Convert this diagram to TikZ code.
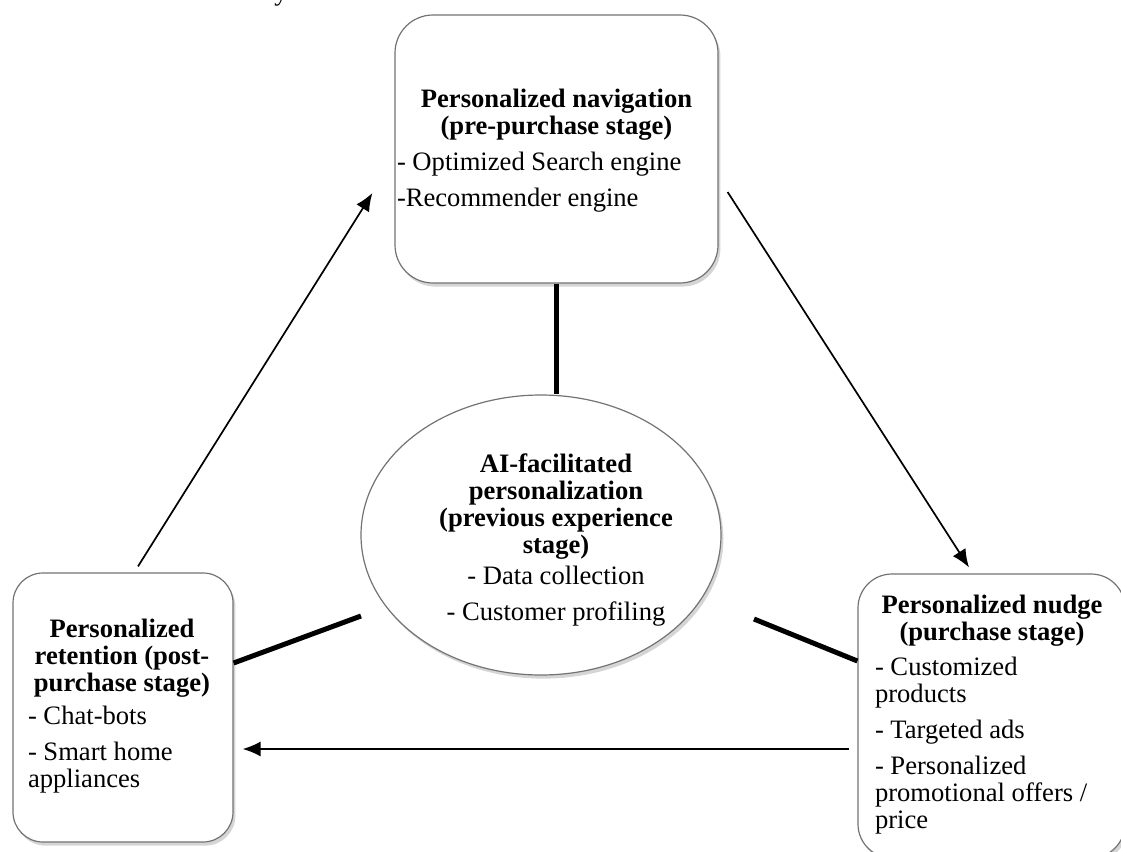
\documentclass[tikz,border=0pt]{standalone}
\usepackage{fontspec}
\setmainfont{Liberation Serif}
\usetikzlibrary{shapes.geometric,shadows,arrows.meta}

% text block whose baseline is the baseline of its first line
\newcommand\stackedtext[2]{\vtop{\hsize=#1\relax\parindent=0pt\parskip=0pt #2}}

\tikzset{
  stagebox/.style={draw=black!55, line width=0.6pt, fill=white, inner sep=0pt,
    drop shadow={shadow xshift=1.2pt, shadow yshift=-1.8pt, opacity=.3, fill=black!55}},
  corebox/.style={ellipse, draw=black!55, line width=0.6pt, fill=white, inner sep=0pt,
    drop shadow={shadow xshift=1.2pt, shadow yshift=-1.8pt, opacity=.3, fill=black!55}},
  txt/.style={anchor=base, inner sep=0pt, font=\fontsize{13.3}{13.5}\selectfont},
  flow/.style={line width=0.85pt, -{Latex[length=9pt, width=7.5pt]}},
  tie/.style={line width=2.5pt},
}

\begin{document}
\begin{tikzpicture}[x=0.5pt, y=-0.5pt]
\useasboundingbox (0,0) rectangle (1121,852);
\clip (0,0) rectangle (1121,852);

% tail of a line of text above the figure
\node[txt] (tail) at (281,0) {y};

% the three stages and the central node
\node[stagebox, rounded corners=19pt, minimum width=161.5pt, minimum height=134pt]
  (nav) at (556.5,149) {};
\node[stagebox, rounded corners=15pt, minimum width=110pt, minimum height=134.5pt]
  (ret) at (123,707.5) {};
\node[stagebox, rounded corners=17pt, minimum width=133.5pt, minimum height=142pt]
  (nudge) at (991.5,716) {};
\node[corebox, minimum width=180pt, minimum height=140pt] (ai) at (541,535) {};

% texts
\node[txt] (navtext) at (556.5,107) {\stackedtext{159.5pt}{\centering\bfseries
  Personalized navigation\\(pre-purchase stage)\par\vspace{4.5pt}
  \raggedright\mdseries - Optimized Search engine\\[4.5pt]-Recommender engine\par}};

\node[txt] (rettext) at (122,637) {\stackedtext{94pt}{\centering\bfseries
  Personalized\\retention (post-\\purchase stage)\par\vspace{3pt}
  \raggedright\mdseries - Chat-bots\\[4.5pt]- Smart home\\appliances\par}};

\node[txt] (nudgetext) at (992,613) {\stackedtext{117pt}{\centering\bfseries
  Personalized nudge\\(purchase stage)\par\vspace{4pt}
  \raggedright\mdseries - Customized\\products\\[4.5pt]- Targeted ads\\[4.5pt]
  - Personalized\\promotional offers /\\price\par}};

\node[txt] (aitext) at (556,472) {\stackedtext{130pt}{\centering\bfseries
  AI-facilitated\\personalization\\(previous experience\\stage)\par\vspace{2pt}
  \mdseries - Data collection\\[4.5pt]- Customer profiling\par}};

% free ends of the two side ties
\coordinate (aiL) at (361,616);
\coordinate (aiR) at (754,619);

% ties to the central node
\draw[tie] (nav.south) -- (nav.south |- ai.north);
\draw[tie] ([yshift=22.25pt]ret.east) -- (aiL);
\draw[tie] (aiR) -- ([yshift=27.5pt]nudge.west);

% cycle of stages
\draw[flow] ([xshift=7.5pt, yshift=3pt]ret.north) -- ([xshift=-11pt, yshift=-22pt]nav.west);
\draw[flow] ([xshift=4.5pt, yshift=-21.5pt]nav.east) -- ([xshift=-11.25pt, yshift=3pt]nudge.north);
\draw[flow] ([xshift=-4pt, yshift=-16.5pt]nudge.west) -- ([xshift=4.5pt, yshift=-20.75pt]ret.east);
\end{tikzpicture}
\end{document}
